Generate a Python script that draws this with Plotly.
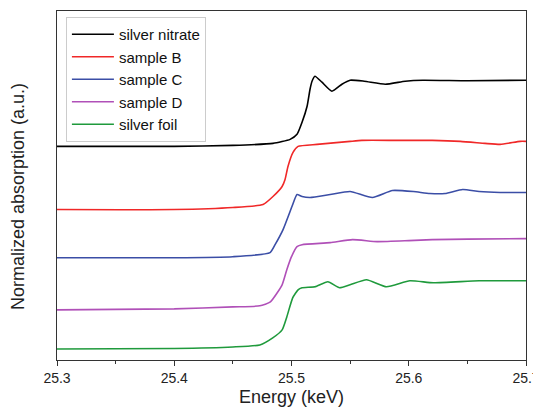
import plotly.graph_objects as go

# Energies (keV) and normalized absorption (offset stacked, a.u.)
e_nitrate = [25.30, 25.40, 25.45, 25.4842, 25.4988, 25.5047, 25.509, 25.5133, 25.5158, 25.5175, 25.520,
             25.526, 25.5345, 25.543, 25.550, 25.562, 25.580, 25.597, 25.612, 25.650, 25.700]
y_nitrate = [2.13, 2.13, 2.14, 2.16, 2.20, 2.25, 2.37, 2.53, 2.70, 2.78, 2.83,
             2.77, 2.68, 2.75, 2.79, 2.78, 2.75, 2.78, 2.79, 2.785, 2.79]

e_b = [25.30, 25.40, 25.45, 25.4757, 25.4842, 25.492, 25.4945, 25.497, 25.5013, 25.5056, 25.5218, 25.550,
       25.560, 25.590, 25.620, 25.644, 25.665, 25.678, 25.695, 25.70]
y_b = [1.50, 1.50, 1.52, 1.55, 1.63, 1.73, 1.80, 1.93, 2.07, 2.13, 2.15, 2.18,
       2.19, 2.19, 2.19, 2.18, 2.16, 2.15, 2.18, 2.18]

e_c = [25.30, 25.40, 25.45, 25.4817, 25.486, 25.4928, 25.5004, 25.5047, 25.509, 25.5158, 25.533, 25.550,
       25.569, 25.586, 25.604, 25.618, 25.631, 25.646, 25.660, 25.678, 25.70]
y_c = [1.02, 1.02, 1.03, 1.07, 1.15, 1.30, 1.53, 1.65, 1.63, 1.62, 1.65, 1.68,
       1.62, 1.69, 1.68, 1.66, 1.66, 1.70, 1.68, 1.67, 1.67]

e_d = [25.30, 25.40, 25.45, 25.473, 25.482, 25.492, 25.496, 25.500, 25.5047, 25.509, 25.533, 25.552,
       25.573, 25.600, 25.620, 25.650, 25.70]
y_d = [0.50, 0.51, 0.53, 0.54, 0.58, 0.75, 0.90, 1.03, 1.13, 1.15, 1.17, 1.20,
       1.18, 1.19, 1.20, 1.205, 1.21]

e_foil = [25.30, 25.40, 25.45, 25.473, 25.484, 25.492, 25.496, 25.501, 25.5056, 25.509, 25.520, 25.531,
          25.541, 25.550, 25.564, 25.581, 25.601, 25.621, 25.660, 25.70]
y_foil = [0.11, 0.115, 0.13, 0.15, 0.22, 0.30, 0.43, 0.62, 0.70, 0.72, 0.73, 0.78,
          0.72, 0.75, 0.80, 0.73, 0.79, 0.77, 0.79, 0.79]

names = ["silver nitrate", "sample B", "sample C", "sample D", "silver foil"]
colors = ["#000000", "#f02828", "#3b4ea6", "#b050b8", "#1f9a3c"]
series = [(e_nitrate, y_nitrate), (e_b, y_b), (e_c, y_c), (e_d, y_d), (e_foil, y_foil)]

fig = go.Figure()
for (x, y), n, c in zip(series, names, colors):
    fig.add_trace(go.Scatter(x=x, y=y, mode="lines", name=n, line_shape="spline",
                             line=dict(color=c, width=1.6, smoothing=0.5)))

# page body has an 8px default margin, so the figure is sized to fit the window
fig.update_layout(
    width=533, height=399,
    margin=dict(l=49, r=15, t=3, b=47, autoexpand=False),
    paper_bgcolor="white", plot_bgcolor="white",
    font=dict(family="Liberation Sans, Arial, sans-serif", color="#222"),
    showlegend=True,
    legend=dict(x=0.019, y=0.983, xanchor="left", yanchor="top",
                bordercolor="#cccccc", borderwidth=1, bgcolor="white",
                font=dict(size=15, color="#111"), itemwidth=42,
                tracegroupgap=0),
    xaxis=dict(range=[25.3, 25.7], tickvals=[25.3, 25.4, 25.5, 25.6, 25.7],
               ticktext=["25.3", "25.4", "25.5", "25.6", "25.7"],
               ticks="outside", ticklen=5, tickwidth=1.2, tickcolor="#333",
               minor=dict(dtick=0.05, tick0=25.3, ticks="outside", ticklen=3, tickcolor="#333"),
               showline=True, linecolor="#333", linewidth=1.2, mirror=True,
               showgrid=False, zeroline=False, automargin=False,
               tickfont=dict(size=14),
               title=dict(text="Energy (keV)", font=dict(size=18), standoff=8)),
    yaxis=dict(range=[0.0, 3.48], showticklabels=False, ticks="",
               showline=True, linecolor="#333", linewidth=1.2, mirror=True,
               showgrid=False, zeroline=False, automargin=False),
    annotations=[dict(text="Normalized absorption (a.u.)", textangle=-90,
                      xref="paper", yref="paper", x=-0.083, y=0.467,
                      xanchor="center", yanchor="middle", showarrow=False,
                      font=dict(size=18))],
)

fig.write_html("out.html")
